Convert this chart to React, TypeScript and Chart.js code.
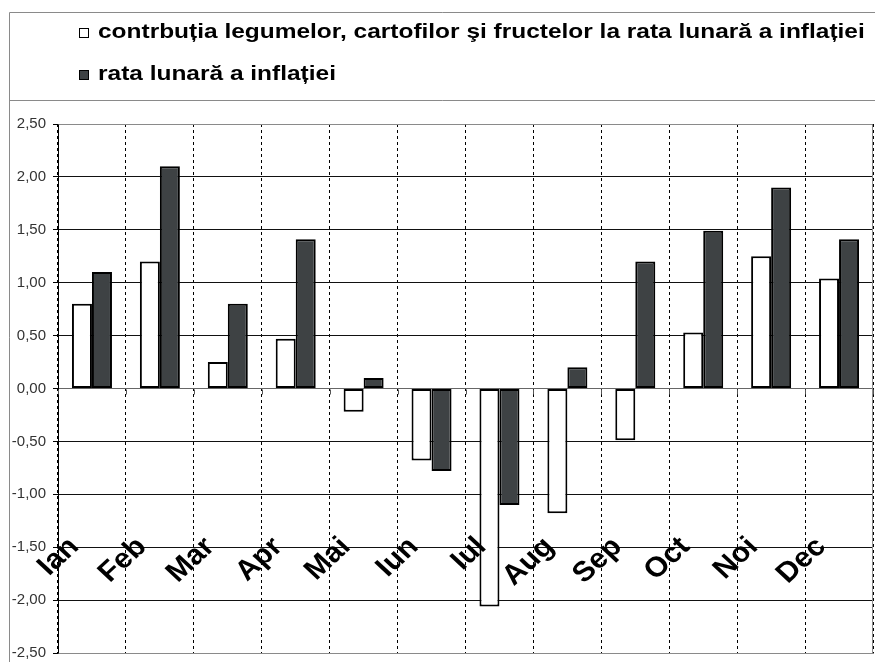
import React, { useEffect, useRef } from 'react';
import { Chart, registerables } from 'chart.js';

Chart.register(...registerables);

// ---- data ----
const categories = ['Ian', 'Feb', 'Mar', 'Apr', 'Mai', 'Iun', 'Iul', 'Aug', 'Sep', 'Oct', 'Noi', 'Dec'];
const contributionValues = [0.80, 1.20, 0.25, 0.47, -0.22, -0.68, -2.06, -1.18, -0.49, 0.53, 1.25, 1.04];
const inflationValues = [1.10, 2.10, 0.80, 1.41, 0.10, -0.78, -1.10, 0.20, 1.20, 1.49, 1.90, 1.41];
const seriesLabels = [
  'contrbuția legumelor, cartofilor şi fructelor la rata lunară a inflației',
  'rata lunară a inflației',
];
const yMin = -2.5;
const yMax = 2.5;
const yStep = 0.5;

const WHITE = '#ffffff';
const DARK = '#3e4244';
const FRAME = '#8a8a8a';
const FONT = '"Liberation Sans", Arial, sans-serif';

const decoPlugin = {
  id: 'deco',
  beforeDraw(chart: any) {
    const { ctx, width, height } = chart;
    ctx.save();
    ctx.fillStyle = '#ffffff';
    ctx.fillRect(0, 0, width, height);
    ctx.restore();
  },
  afterDraw(chart: any) {
    const { ctx, chartArea, width, height } = chart;
    const l = Math.round(chartArea.left) + 0.5;
    const r = Math.round(chartArea.right) - 0.5;
    const t = Math.round(chartArea.top) + 0.5;
    const b = Math.round(chartArea.bottom) + 0.5;
    ctx.save();
    // outer frame + legend separator
    ctx.strokeStyle = FRAME;
    ctx.lineWidth = 1;
    ctx.setLineDash([]);
    ctx.beginPath();
    ctx.moveTo(9.5, height);
    ctx.lineTo(9.5, 12.5);
    ctx.lineTo(width, 12.5);
    ctx.moveTo(9.5, 100.5);
    ctx.lineTo(width, 100.5);
    ctx.stroke();
    // plot border top/right/bottom
    ctx.beginPath();
    ctx.moveTo(l, t);
    ctx.lineTo(r, t);
    ctx.lineTo(r, b);
    ctx.lineTo(l, b);
    ctx.stroke();
    // small ticks below zero line at category boundaries
    const ys = chart.scales.y;
    const xs = chart.scales.x;
    const y0 = Math.round(ys.getPixelForValue(0)) + 0.5;
    ctx.strokeStyle = '#555';
    ctx.beginPath();
    for (let i = 0; i <= categories.length; i++) {
      const x = Math.round(xs.getPixelForValue(i - 0.5)) + 0.5;
      ctx.moveTo(x, y0);
      ctx.lineTo(x, y0 + 5);
    }
    ctx.stroke();

    // legend
    const fills = [WHITE, DARK];
    const rows = [38, 80];
    seriesLabels.forEach((label, i) => {
      ctx.fillStyle = fills[i];
      ctx.strokeStyle = '#000';
      ctx.lineWidth = 1;
      ctx.fillRect(79.5, rows[i] - 9.5, 9, 9);
      ctx.strokeRect(79.5, rows[i] - 9.5, 9, 9);
      ctx.save();
      ctx.fillStyle = '#000';
      ctx.font = 'bold 21px ' + FONT;
      ctx.textAlign = 'left';
      ctx.textBaseline = 'alphabetic';
      ctx.translate(98, rows[i]);
      ctx.scale(1.165, 1);
      ctx.fillText(label, 0, 0);
      ctx.restore();
    });

    // rotated category labels
    categories.forEach((c, i) => {
      const cx = xs.getPixelForValue(i);
      ctx.save();
      ctx.translate(cx - 12, 548);
      ctx.scale(1.08, 1);
      ctx.rotate(-Math.PI / 4);
      ctx.font = 'bold 28px ' + FONT;
      ctx.fillStyle = '#000';
      ctx.textAlign = 'right';
      ctx.textBaseline = 'alphabetic';
      ctx.fillText(c, 0, 0);
      ctx.restore();
    });
    ctx.restore();
  },
};

export default function App() {
  const canvasRef = useRef<HTMLCanvasElement | null>(null);

  useEffect(() => {
    document.body.style.margin = '0';
    const canvas = canvasRef.current;
    if (!canvas) return;
    const chart = new Chart(canvas, {
      type: 'bar',
      data: {
        labels: categories,
        datasets: [
          {
            label: seriesLabels[0],
            data: contributionValues,
            backgroundColor: WHITE,
            borderColor: '#000',
            borderWidth: 2,
            borderSkipped: false,
            categoryPercentage: 0.589,
            barPercentage: 1,
          },
          {
            label: seriesLabels[1],
            data: inflationValues,
            backgroundColor: DARK,
            borderColor: '#000',
            borderWidth: 2,
            borderSkipped: false,
            categoryPercentage: 0.589,
            barPercentage: 1,
          },
        ],
      },
      options: {
        animation: false,
        responsive: true,
        maintainAspectRatio: false,
        layout: { padding: { top: 124, right: 2, bottom: 9, left: 0 } },
        plugins: {
          legend: { display: false },
          tooltip: { enabled: false },
          title: { display: false },
        },
        scales: {
          x: {
            ticks: { display: false },
            grid: {
              color: '#000',
              lineWidth: 1,
              drawTicks: false,
              offset: true,
            },
            border: { display: true, color: FRAME, dash: [3, 3] },
            afterFit: (scale: any) => {
              scale.height = 0;
              scale.paddingLeft = 0;
              scale.paddingRight = 0;
            },
          },
          y: {
            min: yMin,
            max: yMax,
            ticks: {
              stepSize: yStep,
              color: '#333',
              font: { family: FONT, size: 15 },
              padding: 7,
              callback: (v: any) => Number(v).toFixed(2).replace('.', ','),
            },
            grid: {
              color: (ctx: any) => (ctx.tick && ctx.tick.value === 0 ? '#666' : '#111'),
              tickColor: '#000',
              tickLength: 5,
              lineWidth: 1,
            },
            border: { display: true, color: '#000', width: 1 },
            afterFit: (scale: any) => {
              scale.width = 58;
              scale.paddingTop = 0;
              scale.paddingBottom = 0;
            },
          },
        },
      },
      plugins: [decoPlugin],
    });
    return () => chart.destroy();
  }, []);

  return (
    <div style={{ width: 875, height: 662, position: 'relative' }}>
      <canvas ref={canvasRef} />
    </div>
  );
}
